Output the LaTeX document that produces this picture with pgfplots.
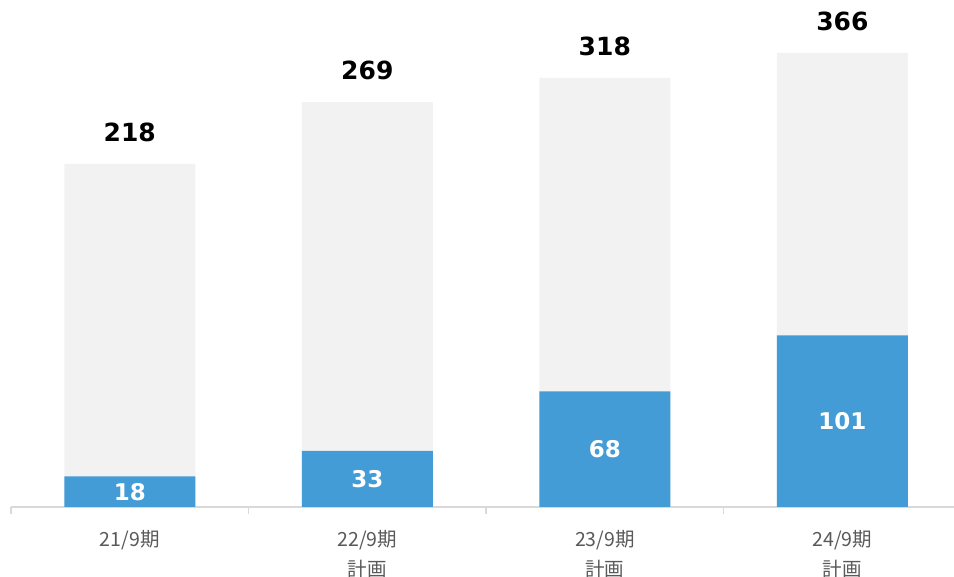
\documentclass[border=0pt]{standalone}
\usepackage{pgfplots}
\pgfplotsset{compat=1.18}
\usepackage{fontspec}
\setmainfont{DejaVu Sans}
\newfontfamily\jp{Noto Sans CJK JP}
\definecolor{barblue}{HTML}{439CD6}
\definecolor{bargray}{HTML}{F2F2F2}
\definecolor{axisgray}{HTML}{D9D9D9}
\definecolor{labelgray}{HTML}{595959}
\begin{document}
\begin{tikzpicture}
\useasboundingbox (-11pt,-70pt) rectangle (943pt,507pt);
\begin{axis}[
    scale only axis,
    width=943pt, height=507pt,
    xmin=-0.5, xmax=3.47,
    ymin=0, ymax=298.2,
    ybar, bar width=0.5516, bar shift=0pt,
    axis x line*=bottom, axis y line=none,
    axis line style={draw=axisgray, line width=1.5pt},
    ytick=\empty,
    xtick={0,1,2,3},
    xticklabels={21/9期, {22/9期\\計画}, {23/9期\\計画}, {24/9期\\計画}},
    minor xtick={-0.5,0.5,1.5,2.5},
    major tick length=0pt,
    minor tick length=7pt,
    tick align=outside,
    minor tick style={draw=axisgray, line width=1.5pt},
    xticklabel style={font=\jp\fontsize{19.5}{30}\selectfont, text=labelgray,
        align=center, anchor=north, inner sep=0pt, yshift=-23pt},
    clip=false,
    point meta=explicit symbolic,
    nodes near coords,
]
% gray bars: drawn height as in the picture, label shows the total
\addplot[fill=bargray, draw=none,
    every node near coord/.append style={font=\bfseries\fontsize{25}{25}\selectfont,
        text=black, anchor=south, inner sep=0pt, yshift=22pt}]
    coordinates {(0,201.8) [218] (1,238.2) [269] (2,252.4) [318] (3,267.1) [366]};
% blue bars, label centred in the bar
\addplot[fill=barblue, draw=none,
    visualization depends on={y \as \rawy},
    every node near coord/.append style={font=\bfseries\fontsize{23}{23}\selectfont,
        text=white, anchor=center, inner sep=0pt,
        shift={(axis direction cs:0,-\rawy/2)}}]
    coordinates {(0,18) [18] (1,33) [33] (2,68) [68] (3,101) [101]};
\end{axis}
\end{tikzpicture}
\end{document}
